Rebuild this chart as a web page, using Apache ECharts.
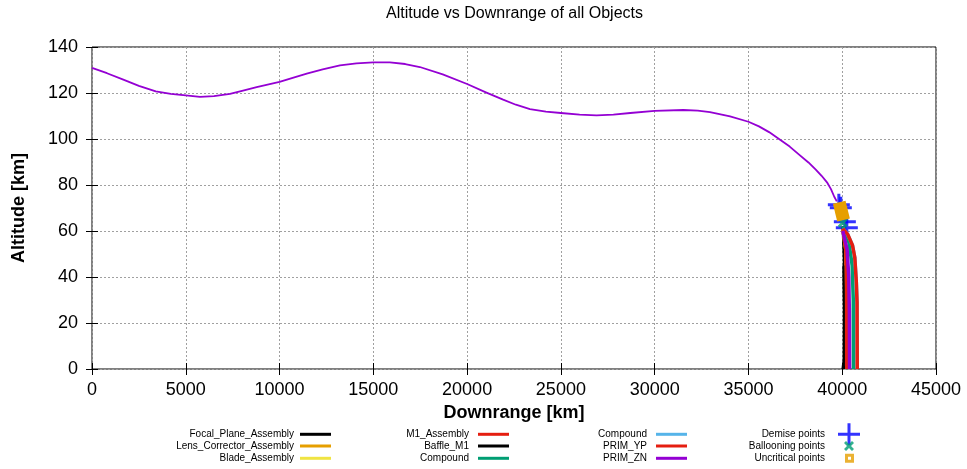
<!DOCTYPE html>
<html><head><meta charset="utf-8">
<script src="https://cdn.jsdelivr.net/npm/echarts@6/dist/echarts.min.js"></script>
<style>html,body{margin:0;padding:0;background:#fff}#c{width:967px;height:469px}</style>
</head><body><div id="c"></div>
<script>
// ---- data (downrange km, altitude km) ----
const xRange = [0, 45000, 5000];
const yRange = [0, 140, 20];
const primZN = [[0,130.9],[800,128.6],[1670,125.8],[2500,123.1],[3400,120.7],[4200,119.6],[5000,119.0],[5760,118.3],[6500,118.6],[7360,119.6],[8000,120.9],[8780,122.6],[10000,124.8],[10700,126.6],[11450,128.4],[12300,130.3],[13220,132],[14100,132.9],[15000,133.3],[15880,133.3],[16700,132.6],[17480,131.3],[18700,128.1],[20000,123.9],[21000,120.3],[21920,117.1],[22600,114.9],[23350,113],[24200,111.9],[25000,111.3],[26000,110.6],[26900,110.3],[27800,110.6],[28700,111.3],[30000,112.2],[31530,112.6],[32300,112.3],[32950,111.7],[34020,109.8],[35000,107.5],[35560,105.5],[36100,103.0],[36630,100],[37200,96.7],[37700,93.2],[38200,89.8],[38590,86.7],[38900,84.0],[39210,80.9],[39400,78.2],[39570,75],[39710,72.9]];
const primZNFrag = [[40030,60],[40260,52],[40350,40],[40380,25],[40390,0]];
const focalPlane = [[40030,62],[40090,48],[40110,25],[40110,0]];
const lensCorrector = [[39840,72.5],[40070,64.8]];
const bladeAssembly = [[40030,61],[40190,52],[40230,35],[40240,0]];
const m1Assembly = [[40030,61],[40190,52],[40230,35],[40240,0]];
const baffleM1 = [[40060,45],[40080,25],[40070,4],[40010,0]];
const compoundA = [[40030,62],[40360,55],[40530,45],[40590,30],[40600,0]];
const compoundB = [[40030,61],[40300,58.4],[40550,53.7],[40670,48.5],[40750,38],[40790,29],[40800,0]];
const primYP = [[40030,61],[40300,58.4],[40550,53.7],[40670,48.5],[40750,38],[40790,29],[40800,0]];
const demisePts = [[39820,71.4],[39925,70.1],[40140,64.0],[40245,61.4]];
const balloonPts = [[40030,63.6]];
const uncriticalPts = [];

const FONT = "'Liberation Sans', Arial, sans-serif";
const CROSS = 'path://M0,9.5h22v3H0z M9.5,0h3v22h-3z';
const XMARK = 'path://M0,2L2,0L5,3L8,0L10,2L7,5L10,8L8,10L5,7L2,10L0,8L3,5Z';
const SQUARE = 'path://M0,0h9v9H0z M3,3v3h3V3z';

function lineSeries(name, data, color, width) {
  return {type:'line', name, data, showSymbol:false, symbol:'none', color,
    lineStyle:{color, width, cap:'butt', join:'round'}, smooth:false,
    animation:false, emphasis:{disabled:true}};
}
function lg(name, right, cy, w, h, icon, padR) {
  return {
    data:[name], orient:'horizontal', align:'right', right, top: cy - Math.max(h,12)/2,
    padding:0, itemWidth:w, itemHeight:h, icon, selectedMode:false,
    formatter: n => n.trim(),
    textStyle:{fontSize:10, lineHeight:12, fontFamily:FONT, color:'#000', padding:[0,padR,0,0]}
  };
}
const rows = [434.3, 446, 458.3];

const chart = echarts.init(document.getElementById('c'), null, {renderer:'canvas'});
const gridLine = {show:true, lineStyle:{color:'#a0a0a0', type:[2,2], width:1}};
const tick = {show:true, inside:true, length:6, lineStyle:{color:'#000'}};
chart.setOption({
  backgroundColor:'#fff',
  animation:false,
  title:{text:'Altitude vs Downrange of all Objects', left:386, top:6, padding:0,
    textStyle:{fontSize:16, fontWeight:'normal', fontFamily:FONT, color:'#000'}},
  grid:{left:92, right:31, top:47, bottom:100, show:true, borderColor:'#000', borderWidth:1, backgroundColor:'transparent'},
  xAxis:[
    {type:'value', min:xRange[0], max:xRange[1], interval:xRange[2], position:'bottom',
     axisLine:{show:false}, axisTick:tick, splitLine:gridLine,
     axisLabel:{fontSize:18, color:'#000', fontFamily:FONT, margin:12, formatter: v => String(v)},
     name:'Downrange [km]', nameLocation:'middle', nameGap:34,
     nameTextStyle:{fontSize:18, fontWeight:'bold', fontFamily:FONT, color:'#000'}},
    {type:'value', min:xRange[0], max:xRange[1], interval:xRange[2], position:'top',
     axisLine:{show:false}, axisTick:tick, splitLine:{show:false}, axisLabel:{show:false}}
  ],
  yAxis:[
    {type:'value', min:yRange[0], max:yRange[1], interval:yRange[2], position:'left',
     axisLine:{show:false}, axisTick:tick, splitLine:gridLine,
     axisLabel:{fontSize:18, color:'#000', fontFamily:FONT, margin:14, formatter: v => String(v)},
     name:'Altitude [km]', nameLocation:'middle', nameGap:64,
     nameTextStyle:{fontSize:18, fontWeight:'bold', fontFamily:FONT, color:'#000'}},
    {type:'value', min:yRange[0], max:yRange[1], interval:yRange[2], position:'right',
     axisLine:{show:false}, axisTick:tick, splitLine:{show:false}, axisLabel:{show:false}}
  ],
  legend:[
    lg('Focal_Plane_Assembly', 636, rows[0], 31, 3, 'rect', 1),
    lg('Lens_Corrector_Assembly', 636, rows[1], 31, 3, 'rect', 1),
    lg('Blade_Assembly', 636, rows[2], 31, 3, 'rect', 1),
    lg('M1_Assembly', 458, rows[0], 31, 3, 'rect', 4),
    lg('Baffle_M1', 458, rows[1], 31, 3, 'rect', 4),
    lg('Compound', 458, rows[2], 31, 3, 'rect', 4),
    lg('Compound ', 280, rows[0], 31, 3, 'rect', 4),
    lg('PRIM_YP', 280, rows[1], 31, 3, 'rect', 4),
    lg('PRIM_ZN', 280, rows[2], 31, 3, 'rect', 4),
    lg('Demise points', 107, rows[0], 22, 22, CROSS, 8),
    lg('Ballooning points', 113, rows[1], 10, 10, XMARK, 14),
    lg('Uncritical points', 113, rows[2], 9, 9, SQUARE, 15)
  ],
  series:[
    lineSeries('Focal_Plane_Assembly', focalPlane, '#000000', 2.5),
    lineSeries('Lens_Corrector_Assembly', lensCorrector, '#e69f00', 13),
    lineSeries('Blade_Assembly', bladeAssembly, '#f0e442', 3.5),
    lineSeries('M1_Assembly', m1Assembly, '#e51e10', 3.5),
    lineSeries('Baffle_M1', baffleM1, '#000000', 2),
    lineSeries('Compound', compoundA, '#009e73', 3.5),
    lineSeries('Compound ', compoundB, '#56b4e9', 3.5),
    lineSeries('PRIM_YP', primYP, '#e51e10', 3.5),
    lineSeries('PRIM_ZN', primZN, '#9400d3', 1.8),
    lineSeries('PRIM_ZN', primZNFrag, '#9400d3', 3.5),
    {type:'scatter', name:'Demise points', data:demisePts, symbol:CROSS, symbolSize:22,
     itemStyle:{color:'#0000ff'}, animation:false, emphasis:{disabled:true}},
    {type:'scatter', name:'Ballooning points', data:balloonPts, symbol:XMARK, symbolSize:10,
     itemStyle:{color:'#009e73'}, animation:false, emphasis:{disabled:true}},
    {type:'scatter', name:'Uncritical points', data:uncriticalPts, symbol:SQUARE, symbolSize:9,
     itemStyle:{color:'#e69f00'}, animation:false, emphasis:{disabled:true}}
  ]
});
</script></body></html>
